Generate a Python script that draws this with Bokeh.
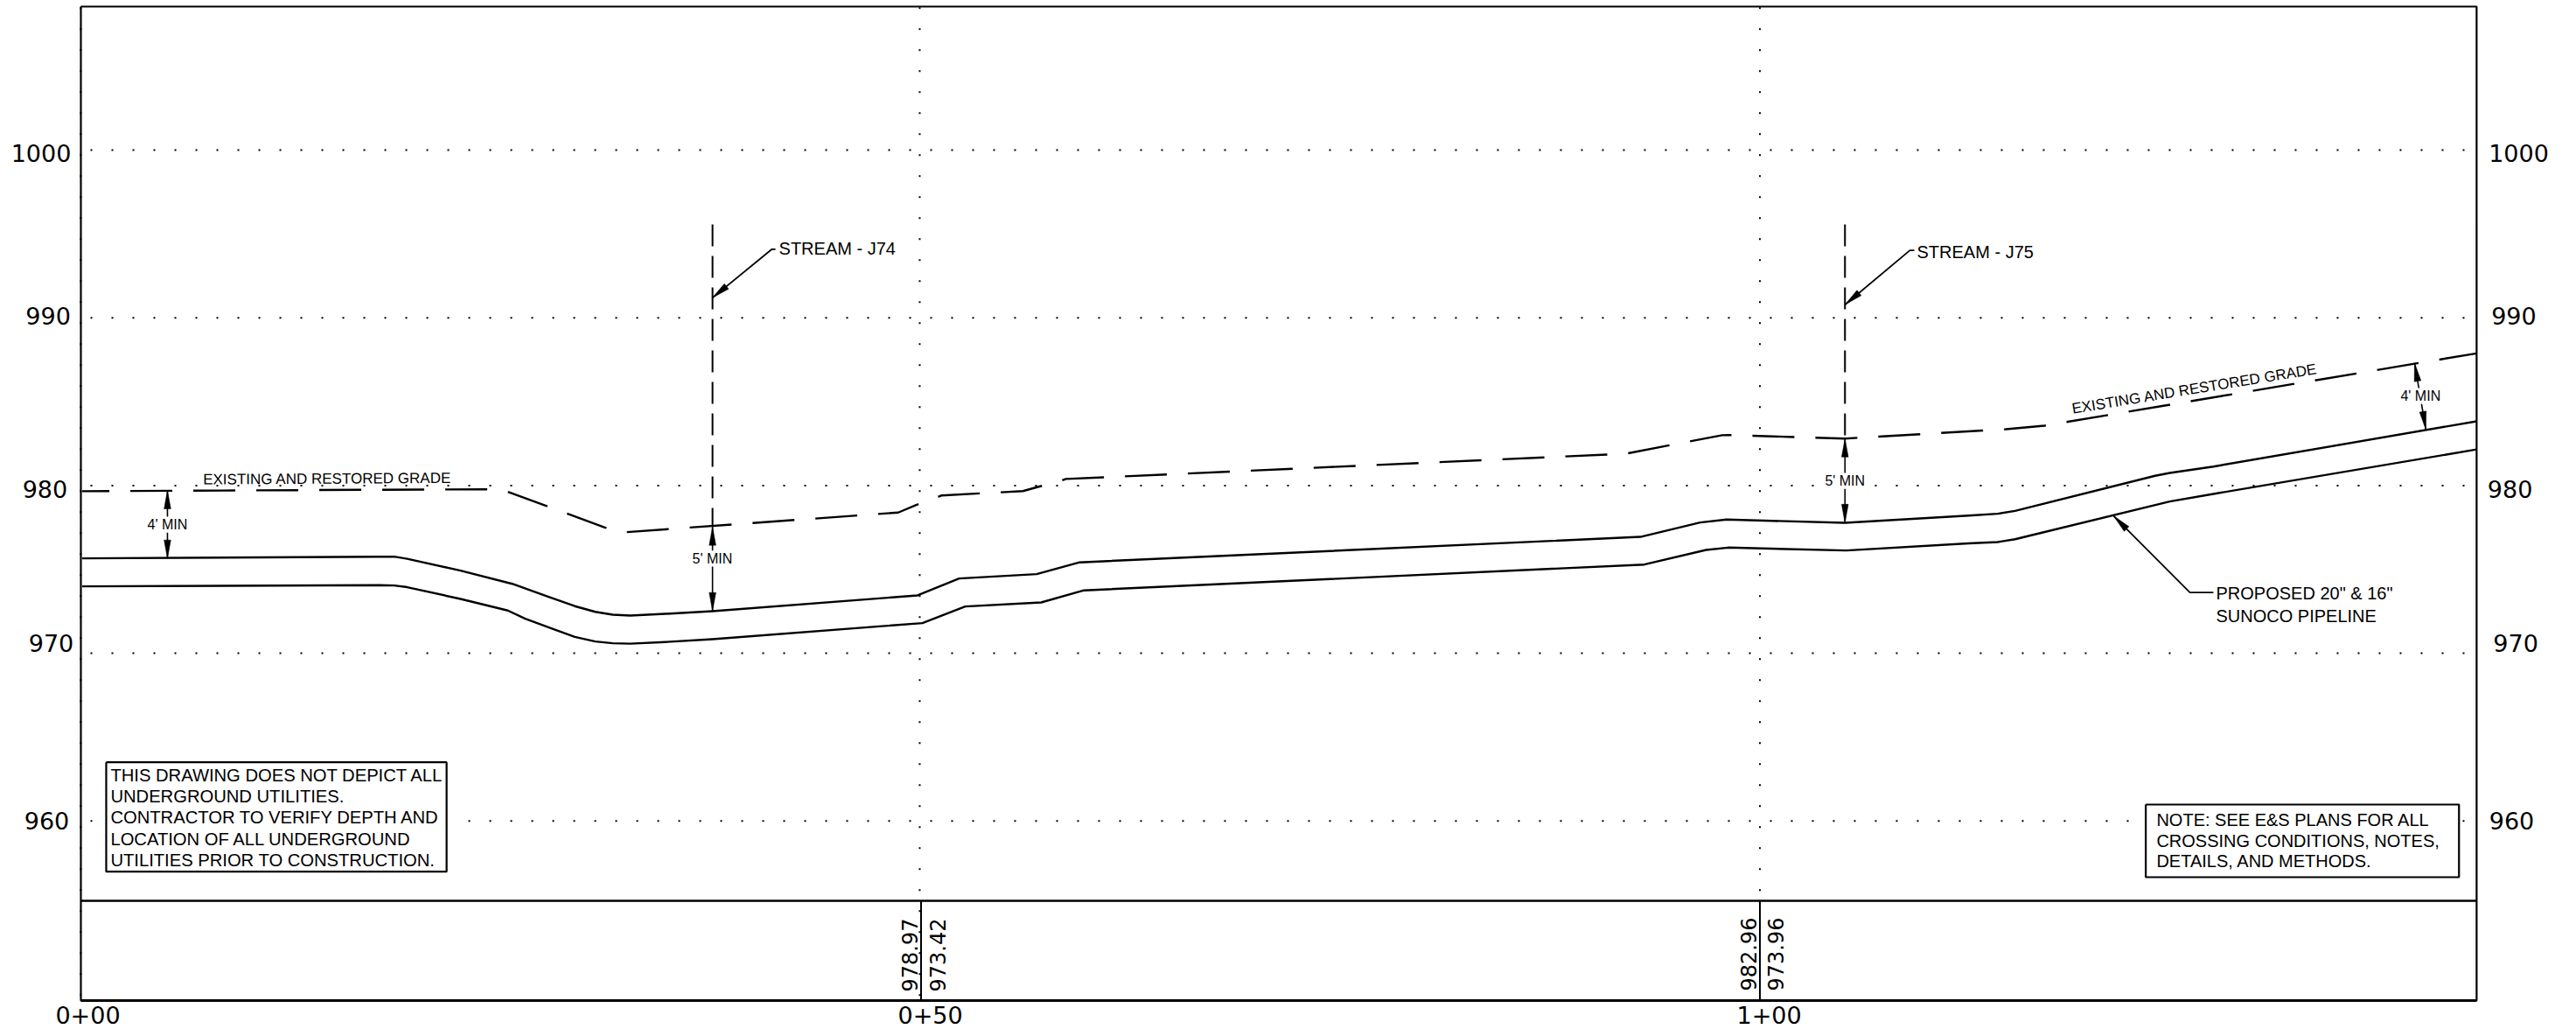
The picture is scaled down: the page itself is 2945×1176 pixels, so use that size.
from bokeh.plotting import figure
from bokeh.embed import file_html
from bokeh.resources import INLINE
from bokeh.core.properties import value
import numpy as np

# ---------- data (feet along the line, elevation in feet) ----------
pipe_top_x = [0, 17.72, 18.59, 19.37, 22.55, 25.63, 27.80, 29.36, 30.58, 31.62, 32.66, 34.75, 37.57, 49.79,
              52.27, 56.89, 59.45, 92.88, 96.44, 98.01, 105.07, 112.44, 114.17, 115.21, 123.56, 124.43, 127.03, 142.72]
pipe_top_y = [975.66, 975.76, 975.76, 975.63, 974.93, 974.14, 973.36, 972.81, 972.47, 972.30, 972.25, 972.35, 972.51, 973.45,
              974.46, 974.72, 975.42, 976.94, 977.80, 977.97, 977.78, 978.21, 978.32, 978.49, 980.58, 980.75, 981.13, 983.83]
pipe_bot_x = [0, 17.72, 18.59, 19.37, 22.55, 25.37, 26.41, 28.14, 29.36, 30.58, 31.62, 32.66, 34.75, 37.57, 50.08,
              52.63, 57.16, 59.71, 93.11, 96.79, 98.10, 105.14, 112.44, 114.17, 115.21, 124.43, 127.03, 142.72]
pipe_bot_y = [973.99, 974.06, 974.04, 973.94, 973.24, 972.55, 972.06, 971.42, 970.98, 970.70, 970.60, 970.57, 970.67, 970.84, 971.80,
              972.79, 973.03, 973.75, 975.29, 976.16, 976.30, 976.13, 976.55, 976.63, 976.80, 979.05, 979.50, 982.15]
grade_x = [0, 24.01, 25.21, 31.15, 32.25, 48.64, 49.71, 50.86, 51.23, 56.07, 57.01, 58.30, 58.63,
           92.01, 97.75, 98.15, 105.07, 114.68, 116.96, 142.72]
grade_y = [979.66, 979.78, 979.69, 977.50, 977.21, 978.39, 978.84, 979.26, 979.41, 979.67, 979.93, 980.27, 980.39,
           981.90, 983.00, 983.01, 982.80, 983.36, 983.57, 987.88]

elev_ticks = [1000, 990, 980, 970, 960]
elev_labels = ["1000", "990", "980", "970", "960"]
elev_label_y = [999.84, 990.14, 979.81, 970.60, 959.99]
elev_left_x = [-2.45, -2.03, -2.22, -1.85, -2.11]
elev_right_x = [145.23, 144.94, 144.71, 145.05, 144.81]

station_x = [0.34, 50.55, 100.55]
station_labels = ["0+00", "0+50", "1+00"]
grid_x = [-0.09, 49.92, 100.0]
tick_x = [50, 100]

bottom_x = [49.30, 50.97, 99.33, 100.96]
bottom_labels = ["978.97", "973.42", "982.96", "973.96"]
bottom_y = [949.82, 949.82, 949.87, 949.87]

stream_x = [37.57, 105.07]
stream_top = [995.57, 995.57]
stream_bottom = [977.54, 982.80]
stream_names = ["STREAM - J74", "STREAM - J75"]

dim_x0 = [5.08, 37.57, 105.07, 139.02]
dim_y0 = [979.71, 977.54, 982.80, 987.31]
dim_x1 = [5.08, 37.57, 105.07, 139.70]
dim_y1 = [975.65, 972.52, 977.78, 983.32]
dim_labels = ["4' MIN", "5' MIN", "5' MIN", "4' MIN"]
dim_label_x = [5.08, 37.56, 105.07, 139.38]
dim_label_y = [977.67, 975.64, 980.28, 985.33]

note1 = ["THIS DRAWING DOES NOT DEPICT ALL", "UNDERGROUND UTILITIES.", "CONTRACTOR TO VERIFY DEPTH AND",
         "LOCATION OF ALL UNDERGROUND", "UTILITIES  PRIOR TO CONSTRUCTION."]
note1_y = [962.75, 961.49, 960.20, 958.93, 957.69]
note2 = ["NOTE: SEE E&S PLANS FOR ALL", "CROSSING CONDITIONS, NOTES,", "DETAILS, AND METHODS."]
note2_y = [960.08, 958.82, 957.59]
pipe_note = ['PROPOSED 20" & 16"', "SUNOCO PIPELINE"]
pipe_note_y = [973.56, 972.23]

# ---------- figure: data range mapped so 1 ft = 19.18 px ----------
W, H = 2945, 1176
p = figure(width=W, height=H, output_backend="svg", toolbar_location=None,
           x_range=(-4.875, 148.67), y_range=(947.574, 1008.92),
           x_axis_type=None, y_axis_type=None, min_border=0)
p.outline_line_color = None
p.background_fill_color = "white"

XL, XR, YT, YS, YB = -0.08, 142.72, 1008.555, 955.24, 949.30

# dotted grid
for e in elev_ticks:
    p.line([0.495, 142.0], [e, e], line_color="black", line_width=2, line_dash="2 22")
for g in grid_x:
    p.line([g, g], [1008.52, YB], line_color="black", line_width=2, line_dash="2 22")

# masks under the note boxes and dimension labels
p.quad(left=[1.43], right=[22.7], top=[963.5], bottom=[956.98], fill_color="white", line_color=None)
p.quad(left=[123.0], right=[141.67], top=[960.98], bottom=[956.65], fill_color="white", line_color=None)

# frame and lower band
p.line([XL, XR, XR, XL, XL], [YT, YT, YB, YB, YT], line_color="black", line_width=2.2)
p.line([XL, XR], [YB, YB], line_color="black", line_width=3)
p.line([XL, XR], [YS, YS], line_color="black", line_width=2.5)
for t in tick_x:
    p.line([t, t], [YB, YS], line_color="black", line_width=2)

# profile lines
p.line(pipe_top_x, pipe_top_y, line_color="black", line_width=2.4, line_join="round")
p.line(pipe_bot_x, pipe_bot_y, line_color="black", line_width=2.4, line_join="round")
p.line(grade_x, grade_y, line_color="black", line_width=2.4, line_dash="48 24", line_dash_offset=17)

# stream centre lines
for sx, st, sb in zip(stream_x, stream_top, stream_bottom):
    p.line([sx, sx], [st, sb], line_color="black", line_width=2, line_dash="25 11")

def head(tx, ty, fx, fy, length=1.1, half=0.2):
    d = np.array([fx - tx, fy - ty], float)
    d /= np.hypot(*d)
    n = np.array([-d[1], d[0]])
    tip = np.array([tx, ty])
    a = tip + d * length + n * half
    b = tip + d * length - n * half
    return [tip[0], a[0], b[0]], [tip[1], a[1], b[1]]

hx, hy = [], []
# dimension lines
for x0, y0, x1, y1 in zip(dim_x0, dim_y0, dim_x1, dim_y1):
    p.line([x0, x1], [y0, y1], line_color="black", line_width=1.6)
    for a in (head(x0, y0, x1, y1), head(x1, y1, x0, y0)):
        hx.append(a[0]); hy.append(a[1])

# leaders
leaders = [([37.55, 41.11, 41.32], [991.18, 994.09, 994.09]),
           ([105.07, 108.94, 109.2], [990.78, 994.02, 994.02]),
           ([121.08, 125.63, 127.03], [978.19, 973.62, 973.62])]
for lx, ly in leaders:
    p.line(lx, ly, line_color="black", line_width=1.8)
    a = head(lx[0], ly[0], lx[1], ly[1])
    hx.append(a[0]); hy.append(a[1])
p.patches(hx, hy, fill_color="black", line_color="black", line_width=0.5)

# white gaps behind the dimension labels
p.rect(dim_label_x, dim_label_y, width=2.6, height=0.95, fill_color="white", line_color=None)

# note boxes
for l, r, t, b in [(1.43, 21.72, 963.5, 956.98), (123.0, 141.67, 960.98, 956.65)]:
    p.line([l, r, r, l, l], [t, t, b, b, t], line_color="black", line_width=2.2)

def txt(x, y, s, size="20px", font="Liberation Sans", align="left", angle=0):
    p.text(x, y, text=s, text_font=value(font), text_font_size=value(size), text_color="black",
           text_align=align, text_baseline="middle", angle=angle)

txt([1.69] * 5, note1_y, note1, size="20.2px")
txt([123.64] * 3, note2_y, note2)
txt([127.19] * 2, pipe_note_y, pipe_note)
txt([41.53, 109.36], [994.11, 993.91], stream_names)
txt([14.73], [980.40], ["EXISTING  AND RESTORED GRADE"], size="17px", align="center", angle=0.006)
txt([126.03], [985.78], ["EXISTING  AND RESTORED GRADE"], size="17px", align="center", angle=0.162)
txt(dim_label_x, dim_label_y, dim_labels, size="16px", align="center")

txt(elev_left_x, elev_label_y, elev_labels, size="27px", font="DejaVu Sans", align="center")
txt(elev_right_x, elev_label_y, elev_labels, size="27px", font="DejaVu Sans", align="center")
txt(station_x, [948.41] * 3, station_labels, size="27px", font="DejaVu Sans", align="center")
txt(bottom_x, bottom_y, bottom_labels, size="24px", font="DejaVu Sans", align="left", angle=np.pi / 2)

open("out.html", "w").write(file_html(p, INLINE))
